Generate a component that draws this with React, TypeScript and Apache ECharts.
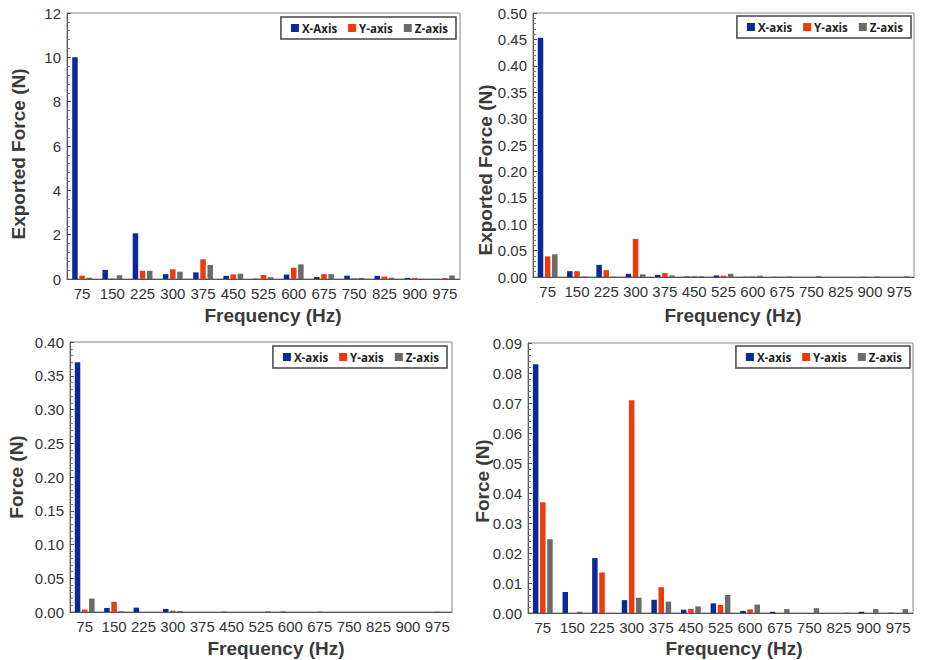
import React, { useEffect, useRef } from "react";
import * as echarts from "echarts";

const frequencies = ["75", "150", "225", "300", "375", "450", "525", "600", "675", "750", "825", "900", "975"];

// Panel 1 (top-left): Exported Force (N)
const p1X = [10.0, 0.41, 2.06, 0.22, 0.30, 0.14, 0.01, 0.20, 0.09, 0.15, 0.14, 0.05, 0.0];
const p1Y = [0.15, 0.02, 0.37, 0.44, 0.89, 0.21, 0.18, 0.51, 0.22, 0.03, 0.11, 0.05, 0.04];
const p1Z = [0.06, 0.17, 0.37, 0.33, 0.63, 0.24, 0.08, 0.66, 0.22, 0.05, 0.06, 0.01, 0.16];

// Panel 2 (top-right): Exported Force (N)
const p2X = [0.453, 0.011, 0.023, 0.006, 0.004, 0.001, 0.003, 0.0005, 0.0003, 0.0, 0.0, 0.0004, 0.0];
const p2Y = [0.039, 0.011, 0.013, 0.072, 0.0075, 0.0015, 0.0025, 0.001, 0.0003, 0.0, 0.0, 0.0, 0.0];
const p2Z = [0.043, 0.001, 0.0005, 0.005, 0.003, 0.0015, 0.006, 0.0025, 0.001, 0.0015, 0.0003, 0.001, 0.0013];

// Panel 3 (bottom-left): Force (N)
const p3X = [0.370, 0.006, 0.0065, 0.0045, 0.0, 0.0005, 0.0, 0.0005, 0.0, 0.0, 0.0, 0.0, 0.0];
const p3Y = [0.0035, 0.015, 0.0, 0.002, 0.0, 0.0, 0.0, 0.0, 0.0005, 0.0, 0.0, 0.0, 0.0005];
const p3Z = [0.020, 0.001, 0.0, 0.0015, 0.0, 0.0, 0.001, 0.0, 0.0, 0.0, 0.0, 0.0, 0.0];

// Panel 4 (bottom-right): Force (N)
const p4X = [0.0829, 0.007, 0.0183, 0.0043, 0.0044, 0.0011, 0.0032, 0.0007, 0.0004, 0.0, 0.0, 0.0004, 0.0001];
const p4Y = [0.0369, 0.0, 0.0135, 0.0709, 0.0086, 0.0014, 0.0027, 0.0012, 0.0, 0.0, 0.0, 0.0, 0.0];
const p4Z = [0.0246, 0.0004, 0.0, 0.0051, 0.0038, 0.0022, 0.006, 0.0028, 0.0013, 0.0016, 0.0001, 0.0013, 0.0013];

const legend1Names = ["X-Axis", "Y-axis", "Z-axis"];
const legendNames = ["X-axis", "Y-axis", "Z-axis"];

const yAxisTitle1 = "Exported Force (N)";
const yAxisTitle2 = "Force (N)";
const xAxisTitle = "Frequency (Hz)";

const COLORS = ["#0b2a9a", "#ee3b0c", "#6b6b6b"];

export default function App() {
  const ref = useRef<HTMLDivElement>(null);

  useEffect(() => {
    if (!ref.current) return;
    const chart = echarts.init(ref.current, undefined, { renderer: "svg" });

    const grids = [
      { left: 67, top: 13, width: 393, height: 266 },
      { left: 533, top: 13, width: 381, height: 264 },
      { left: 70, top: 342, width: 382, height: 270 },
      { left: 528, top: 343, width: 385, height: 270 },
    ];
    const yCfg = [
      { max: 12, interval: 2, dec: 0 },
      { max: 0.5, interval: 0.05, dec: 2 },
      { max: 0.4, interval: 0.05, dec: 2 },
      { max: 0.09, interval: 0.01, dec: 2 },
    ];
    const data = [
      [p1X, p1Y, p1Z],
      [p2X, p2Y, p2Z],
      [p3X, p3Y, p3Z],
      [p4X, p4Y, p4Z],
    ];
    const legendRight = [474, 19, 483, 20];
    const legendTop = [17, 16, 346, 346];

    const series: any[] = [];
    data.forEach((grp, gi) => {
      const names = gi === 0 ? legend1Names : legendNames;
      grp.forEach((vals, si) => {
        series.push({
          type: "bar",
          name: names[si],
          xAxisIndex: gi,
          yAxisIndex: gi,
          data: vals,
          barWidth: 5.5,
          barGap: "30%",
          itemStyle: { color: COLORS[si] },
        });
      });
    });

    const titleFont = { fontFamily: "Liberation Sans, Arial, sans-serif", fontWeight: "bold", fontSize: 19, fill: "#3a3a3a" };
    const graphic: any[] = [
      { type: "text", x: 18, y: 154, rotation: Math.PI / 2, style: { text: yAxisTitle1, ...titleFont, align: "center", verticalAlign: "middle" } },
      { type: "text", x: 485, y: 170, rotation: Math.PI / 2, style: { text: yAxisTitle1, ...titleFont, align: "center", verticalAlign: "middle" } },
      { type: "text", x: 16, y: 477, rotation: Math.PI / 2, style: { text: yAxisTitle2, ...titleFont, align: "center", verticalAlign: "middle" } },
      { type: "text", x: 482, y: 481, rotation: Math.PI / 2, style: { text: yAxisTitle2, ...titleFont, align: "center", verticalAlign: "middle" } },
      { type: "text", x: 273, y: 315, style: { text: xAxisTitle, ...titleFont, align: "center", verticalAlign: "middle" } },
      { type: "text", x: 733, y: 315, style: { text: xAxisTitle, ...titleFont, align: "center", verticalAlign: "middle" } },
      { type: "text", x: 276, y: 648, style: { text: xAxisTitle, ...titleFont, align: "center", verticalAlign: "middle" } },
      { type: "text", x: 734, y: 648, style: { text: xAxisTitle, ...titleFont, align: "center", verticalAlign: "middle" } },
    ];

    const option: any = {
      animation: false,
      backgroundColor: "#ffffff",
      grid: grids.map((g) => ({ ...g, show: true, borderColor: "#888", borderWidth: 1, backgroundColor: "transparent" })),
      legend: [0, 1, 2, 3].map((i) => ({
        data: i === 0 ? legend1Names : legendNames,
        right: legendRight[i],
        top: legendTop[i],
        orient: "horizontal",
        itemWidth: 8,
        itemHeight: 8,
        itemGap: 11,
        padding: [5, 8, 5, 10],
        borderColor: "#444",
        borderWidth: 1.5,
        backgroundColor: "#fff",
        icon: "rect",
        selectedMode: false,
        textStyle: { fontFamily: "Open Sans, sans-serif", fontWeight: "bold", fontSize: 11.5, color: "#222", padding: [0, 0, 0, -2] },
      })),
      xAxis: grids.map((_, i) => ({
        type: "category",
        gridIndex: i,
        data: frequencies,
        boundaryGap: true,
        axisLine: { show: true, lineStyle: { color: "#555", width: 1 } },
        axisTick: { show: false },
        axisLabel: { interval: 0, margin: 7, fontSize: 15, color: "#333", fontFamily: "Liberation Sans, Arial, sans-serif" },
        splitLine: { show: false },
      })),
      yAxis: yCfg.map((c, i) => ({
        type: "value",
        gridIndex: i,
        min: 0,
        max: c.max,
        interval: c.interval,
        axisLine: { show: true, lineStyle: { color: "#555", width: 1 } },
        axisTick: { show: true, inside: true, length: 4, lineStyle: { color: "#555" } },
        minorTick: { show: true, splitNumber: 5, length: 3, lineStyle: { color: "#777" } },
        axisLabel: {
          margin: 6,
          fontSize: 15,
          color: "#333",
          fontFamily: "Liberation Sans, Arial, sans-serif",
          formatter: (v: number) => v.toFixed(c.dec),
        },
        splitLine: { show: false },
      })),
      series,
      graphic,
    };

    chart.setOption(option);
    return () => chart.dispose();
  }, []);

  return <div ref={ref} style={{ position: "absolute", left: 0, top: 0, width: 930, height: 660 }} />;
}
